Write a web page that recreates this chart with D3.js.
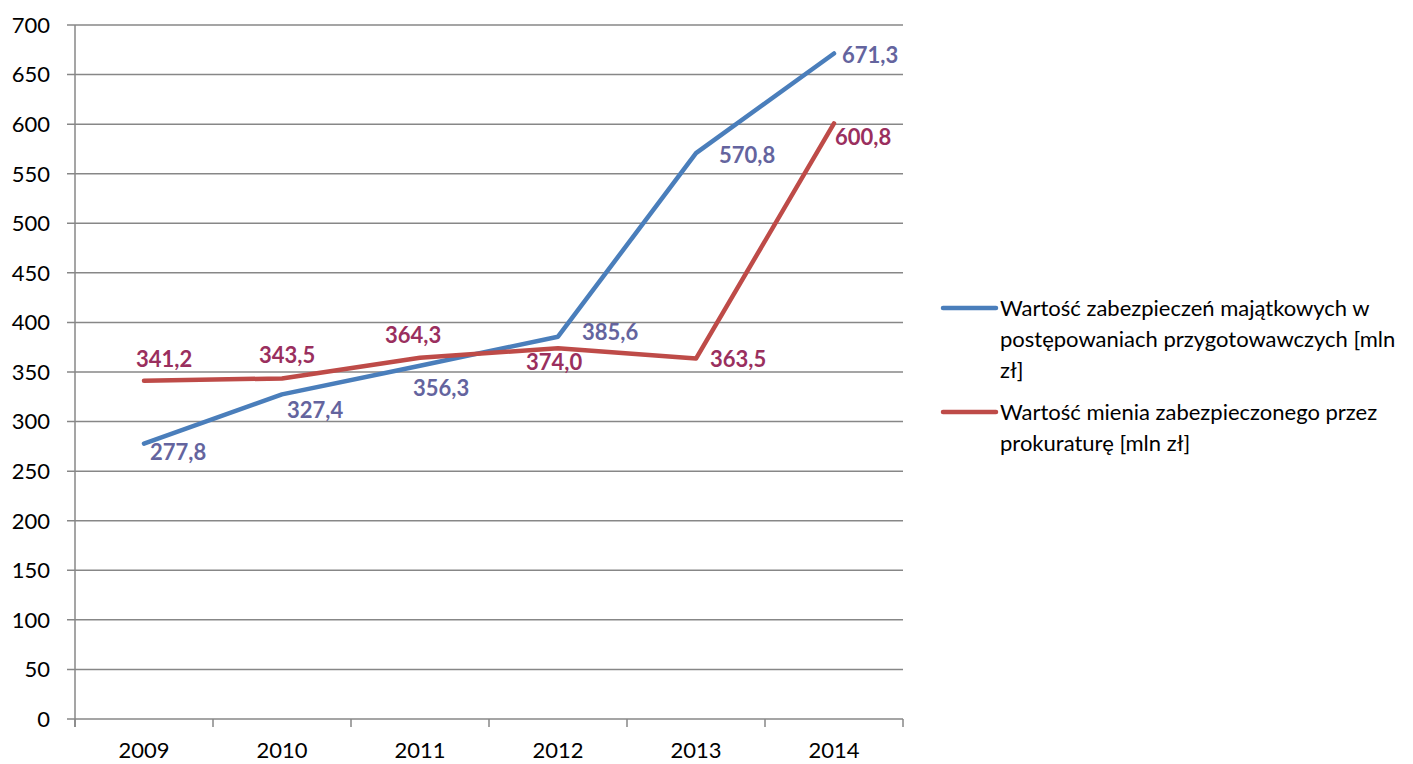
<html>
<head>
<meta charset="utf-8">
<title>Wartość zabezpieczeń</title>
<script src="https://d3js.org/d3.v7.min.js"></script>
<style>
  body { margin: 0; background: #fff; }
  text { font-family: Lato, "Open Sans", sans-serif; }
</style>
</head>
<body>
<script>
// data
var years = ["2009", "2010", "2011", "2012", "2013", "2014"];
var zabezpieczenia = [277.8, 327.4, 356.3, 385.6, 570.8, 671.3];
var mienie = [341.2, 343.5, 364.3, 374.0, 363.5, 600.8];
var yTicks = [0, 50, 100, 150, 200, 250, 300, 350, 400, 450, 500, 550, 600, 650, 700];

var seriesNames = [
  ["Wartość zabezpieczeń majątkowych w", "postępowaniach przygotowawczych [mln", "zł]"],
  ["Wartość mienia zabezpieczonego przez", "prokuraturę [mln zł]"]
];

// label nudges (left edge / vertical centre relative to point)
var blueLabelOff = [[6, 8], [5, 16], [-7, 22], [24, -5], [23, 2], [8, 2]];
var redLabelOff = [[-8, -22], [-23, -23], [-35, -23], [-32, 14], [14, 0], [1, 14]];

var W = 1413, H = 764;
var plotL = 75, plotR = 903, plotT = 25, plotB = 719;

var svg = d3.select("body").append("svg")
  .attr("width", W).attr("height", H);

var x = d3.scaleBand().domain(years).range([plotL, plotR]);
var y = d3.scaleLinear().domain([0, 700]).range([plotB, plotT]);

// grid
svg.append("g").selectAll("line").data(yTicks).enter().append("line")
  .attr("x1", plotL - 8).attr("x2", plotR)
  .attr("y1", function (d) { return y(d); })
  .attr("y2", function (d) { return y(d); })
  .attr("stroke", "#878787").attr("stroke-width", 1.5);

// y axis line
svg.append("line")
  .attr("x1", plotL).attr("x2", plotL).attr("y1", plotT).attr("y2", plotB + 8)
  .attr("stroke", "#878787").attr("stroke-width", 1.5);

// x ticks at band edges
var edges = years.map(function (d) { return x(d); }).concat([plotR]);
svg.append("g").selectAll("line").data(edges).enter().append("line")
  .attr("x1", function (d) { return d; }).attr("x2", function (d) { return d; })
  .attr("y1", plotB).attr("y2", plotB + 8)
  .attr("stroke", "#878787").attr("stroke-width", 1.5);

// y tick labels
svg.append("g").selectAll("text").data(yTicks).enter().append("text")
  .attr("x", 50).attr("y", function (d) { return y(d); })
  .attr("dy", "0.36em").attr("text-anchor", "end")
  .attr("font-size", 22).attr("fill", "#000")
  .text(function (d) { return d; });

// x tick labels
svg.append("g").selectAll("text").data(years).enter().append("text")
  .attr("x", function (d) { return x(d) + x.bandwidth() / 2; })
  .attr("y", 750).attr("dy", "0.36em").attr("text-anchor", "middle")
  .attr("font-size", 22).attr("fill", "#000")
  .text(function (d) { return d; });

var cx = function (d, i) { return x(years[i]) + x.bandwidth() / 2; };
var line = d3.line()
  .x(cx)
  .y(function (d) { return y(d); });

function drawSeries(vals, color, labColor, offs) {
  svg.append("path").datum(vals)
    .attr("d", line)
    .attr("fill", "none").attr("stroke", color)
    .attr("stroke-width", 4.5).attr("stroke-linejoin", "round").attr("stroke-linecap", "round");
  svg.append("g").selectAll("text").data(vals).enter().append("text")
    .attr("x", function (d, i) { return cx(d, i) + offs[i][0]; })
    .attr("y", function (d, i) { return y(d) + offs[i][1]; })
    .attr("dy", "0.36em")
    .attr("font-size", 22).attr("font-weight", "bold").attr("fill", labColor)
    .text(function (d) { return d.toFixed(1).replace(".", ","); });
}

drawSeries(zabezpieczenia, "#4A7EBB", "#64649E", blueLabelOff);
drawSeries(mienie, "#BE4B48", "#9A2F5E", redLabelOff);

// legend
var legColors = ["#4A7EBB", "#BE4B48"];
var legY = [308, 412];
seriesNames.forEach(function (lines, k) {
  svg.append("line")
    .attr("x1", 943).attr("x2", 996).attr("y1", legY[k]).attr("y2", legY[k])
    .attr("stroke", legColors[k]).attr("stroke-width", 4.5).attr("stroke-linecap", "round");
  lines.forEach(function (t, j) {
    svg.append("text")
      .attr("x", 1000).attr("y", legY[k] + j * 31).attr("dy", "0.36em")
      .attr("font-size", 22).attr("fill", "#000")
      .text(t);
  });
});
</script>
</body>
</html>
